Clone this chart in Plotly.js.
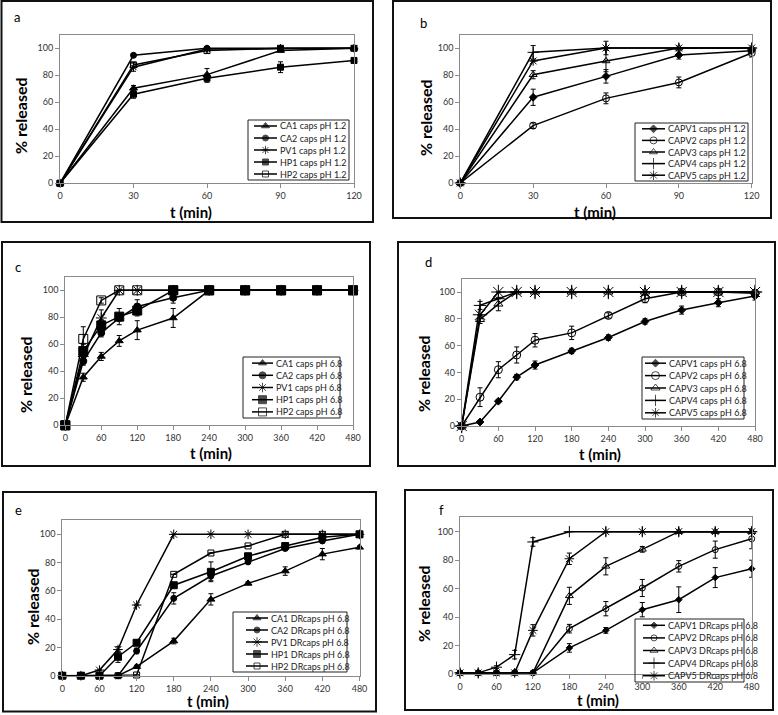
<!DOCTYPE html>
<html><head><meta charset="utf-8">
<script src="https://cdn.plot.ly/plotly-3.0.1.min.js"></script>
<style>html,body{margin:0;padding:0;background:#fff;}#chart{width:778px;height:715px;}</style>
</head><body><div id="chart"></div>
<script>
// ---------- DATA ----------
const timeShort = [0, 30, 60, 90, 120];
const timeLong = [0, 30, 60, 90, 120, 180, 240, 300, 360, 420, 480];

// panel a (pH 1.2 caps)
const namesA = ["CA1 caps pH 1.2", "CA2 caps pH 1.2", "PV1 caps pH 1.2", "HP1 caps pH 1.2", "HP2 caps pH 1.2"];
const aCA1 = [0, 70.4, 80.5, 98.3, 100];   const aCA1Err = [0, 2, 4.5, 1, 1];
const aCA2 = [0, 94.8, 100, 100, 100];     const aCA2Err = [0, 1, 1, 0, 0];
const aPV1 = [0, 86, 99.5, 100, 100];      const aPV1Err = [0, 3, 1, 0, 0];
const aHP1 = [0, 66, 77.8, 86, 91];        const aHP1Err = [0, 3, 3, 4, 1];
const aHP2 = [0, 87.7, 98.3, 100, 100];    const aHP2Err = [0, 2, 2, 1, 1];

// panel b (pH 1.2 CAPV caps)
const namesB = ["CAPV1 caps pH 1.2", "CAPV2 caps pH 1.2", "CAPV3 caps pH 1.2", "CAPV4 caps pH 1.2", "CAPV5 caps pH 1.2"];
const bCAPV1 = [0, 63.5, 79, 94.8, 98];    const bCAPV1Err = [0, 6, 5, 3, 1];
const bCAPV2 = [0, 42.5, 62.7, 74.5, 96.3]; const bCAPV2Err = [0, 2, 4, 4, 3];
const bCAPV3 = [0, 80.2, 90.4, 100, 100];  const bCAPV3Err = [0, 3, 8, 0, 0];
const bCAPV4 = [0, 96.8, 100, 100, 100];   const bCAPV4Err = [0, 5, 0, 0, 0];
const bCAPV5 = [0, 90.4, 100, 100, 100];   const bCAPV5Err = [0, 0, 5, 0, 0];

// panel c (pH 6.8 caps)
const namesC = ["CA1 caps pH 6.8", "CA2 caps pH 6.8", "PV1 caps pH 6.8", "HP1 caps pH 6.8", "HP2 caps pH 6.8"];
const cCA1 = [0, 35.6, 51, 62.5, 70.5, 79.5, 100, 100, 100, 100, 100]; const cCA1Err = [0, 3, 3, 4, 7, 7, 0, 0, 0, 0, 0];
const cCA2 = [0, 47.5, 68.5, 79.5, 88, 94.5, 100, 100, 100, 100, 100]; const cCA2Err = [0, 3, 3, 2, 5, 4, 0, 0, 0, 0, 0];
const cPV1 = [0, 51, 79.5, 100, 100, 100, 100, 100, 100, 100, 100];    const cPV1Err = [0, 5, 6, 0, 0, 0, 0, 0, 0, 0, 0];
const cHP1 = [0, 55, 74, 80.5, 85, 100, 100, 100, 100, 100, 100];      const cHP1Err = [0, 5, 4, 6, 4, 0, 0, 0, 0, 0, 0];
const cHP2 = [0, 64, 92.5, 100, 100, 100, 100, 100, 100, 100, 100];    const cHP2Err = [0, 9, 2, 0, 0, 0, 0, 0, 0, 0, 0];

// panel d (pH 6.8 CAPV caps)
const namesD = ["CAPV1 caps pH 6.8", "CAPV2 caps pH 6.8", "CAPV3 caps pH 6.8", "CAPV4 caps pH 6.8", "CAPV5 caps pH 6.8"];
const dCAPV1 = [0, 3, 18.5, 36.5, 45.5, 56, 66, 78, 86.5, 92, 97];      const dCAPV1Err = [0, 1, 1, 2, 3, 2, 2, 2, 3, 3, 3];
const dCAPV2 = [0, 21.5, 42, 53, 64, 69.5, 82.5, 95, 100, 100, 99];     const dCAPV2Err = [0, 7, 6, 6, 5, 5, 2, 3, 1, 0, 0];
const dCAPV3 = [0, 79.5, 91, 100, 100, 100, 100, 100, 100, 100, 100];   const dCAPV3Err = [0, 3, 5, 0, 0, 0, 0, 0, 0, 0, 0];
const dCAPV4 = [0, 90, 95, 100, 100, 100, 100, 100, 100, 100, 100];     const dCAPV4Err = [0, 3, 0, 0, 0, 0, 0, 0, 0, 0, 0];
const dCAPV5 = [0, 83, 100, 100, 100, 100, 100, 100, 100, 100, 100];    const dCAPV5Err = [0, 0, 0, 0, 0, 0, 0, 0, 0, 0, 0];

// panel e (pH 6.8 DRcaps)
const namesE = ["CA1 DRcaps pH 6.8", "CA2 DRcaps pH 6.8", "PV1 DRcaps pH 6.8", "HP1 DRcaps pH 6.8", "HP2 DRcaps pH 6.8"];
const eCA1 = [0, 0, 0, 0, 6.4, 24.5, 54, 65.3, 74, 86, 90.8];     const eCA1Err = [0, 0, 0, 0, 1, 2, 4, 1, 3, 4, 1];
const eCA2 = [0, 0, 0, 0, 17.5, 54.7, 70.5, 80.5, 90, 95.3, 100]; const eCA2Err = [0, 0, 0, 0, 2, 4, 3, 1, 1, 1, 0];
const ePV1 = [0, 0, 4, 18.5, 50, 100, 100, 100, 100, 100, 100];   const ePV1Err = [0, 0, 0, 2, 0, 0, 0, 0, 0, 0, 0];
const eHP1 = [0, 0, 0, 13.4, 23.3, 64, 73.5, 84.5, 91.7, 98, 100]; const eHP1Err = [0, 0, 0, 4, 1, 1, 7, 2, 1, 1, 0];
const eHP2 = [0, 0, 0, 0, 0.5, 71.7, 86.8, 91.8, 100, 100, 100];  const eHP2Err = [0, 0, 0, 0, 0, 0, 0, 0, 0, 0, 0];

// panel f (pH 6.8 CAPV DRcaps)
const namesF = ["CAPV1 DRcaps pH 6.8", "CAPV2 DRcaps pH 6.8", "CAPV3 DRcaps pH 6.8", "CAPV4 DRcaps pH 6.8", "CAPV5 DRcaps pH 6.8"];
const fCAPV1 = [1, 1, 1.5, 1.5, 1, 18.5, 30.8, 45.3, 52.3, 67.8, 74]; const fCAPV1Err = [0, 0, 0, 0, 0, 3, 2, 5, 9, 7, 6];
const fCAPV2 = [1, 1, 1, 1, 1, 32, 46, 60.5, 75.7, 87.4, 95];         const fCAPV2Err = [0, 0, 0, 0, 0, 3, 5, 6, 4, 6, 7];
const fCAPV3 = [1, 1, 1, 1, 1, 55, 75.7, 87.6, 100, 100, 100];        const fCAPV3Err = [0, 0, 0, 0, 0, 6, 6, 2, 0, 0, 0];
const fCAPV4 = [1, 1, 5, 13.8, 92.8, 100, 100, 100, 100, 100, 100];   const fCAPV4Err = [0, 0, 1, 3, 3, 0, 0, 0, 0, 0, 0];
const fCAPV5 = [1, 1, 1, 1, 30.8, 81, 100, 100, 100, 100, 100];       const fCAPV5Err = [0, 0, 0, 0, 4, 4, 0, 0, 0, 0, 0];

const panelLabels = ["a", "b", "c", "d", "e", "f"];
const yTitleText = "% released";
const xTitleText = "t (min)";

// ---------- STYLE / LAYOUT ----------
const W = 778, H = 715;
const px = x => x / W;
const py = y => 1 - y / H;
const FONT = "Lato, 'Open Sans', sans-serif";

const symCA = ["triangle-up", "circle", "asterisk-open", "square", "square-open"];
const symCAPV = ["diamond", "circle-open", "triangle-up-open", "cross-thin-open", "asterisk-open"];

const panels = [
  { t: timeShort, xmax: 120, dtick: 30, names: namesA, ys: [aCA1, aCA2, aPV1, aHP1, aHP2], errs: [aCA1Err, aCA2Err, aPV1Err, aHP1Err, aHP2Err],
    sym: symCA, size: [7, 6, 7, 6, 6], plot: [60, 354, 34.8, 183.3], box: [1.5, 373, 1, 222],
    leg: [248, 349, 120, 180], legLine: [6, 29], yTitle: [21, 116], xTitle: [191, 212], lab: [17, 17] },
  { t: timeShort, xmax: 120, dtick: 30, names: namesB, ys: [bCAPV1, bCAPV2, bCAPV3, bCAPV4, bCAPV5], errs: [bCAPV1Err, bCAPV2Err, bCAPV3Err, bCAPV4Err, bCAPV5Err],
    sym: symCAPV, size: [6, 7, 7, 8, 8], plot: [460.3, 751.7, 34.5, 183], box: [393, 771, 1, 218],
    leg: [635, 748, 123, 181], legLine: [7, 30], yTitle: [425, 118], xTitle: [595, 212], lab: [423, 23] },
  { t: timeLong, xmax: 480, dtick: 60, names: namesC, ys: [cCA1, cCA2, cPV1, cHP1, cHP2], errs: [cCA1Err, cCA2Err, cPV1Err, cHP1Err, cHP2Err],
    sym: symCA, size: [7, 7, 9, 9, 9], plot: [65.3, 353, 276.8, 425.3], box: [2, 370, 242, 466],
    leg: [243, 340, 357, 418], legLine: [9, 30], yTitle: [25, 375], xTitle: [211, 453], lab: [18, 267] },
  { t: timeLong, xmax: 480, dtick: 60, names: namesD, ys: [dCAPV1, dCAPV2, dCAPV3, dCAPV4, dCAPV5], errs: [dCAPV1Err, dCAPV2Err, dCAPV3Err, dCAPV4Err, dCAPV5Err],
    sym: symCAPV, size: [6, 8, 8, 9, 12], plot: [461.7, 755, 278.6, 426], box: [398, 775, 242, 466],
    leg: [642, 744, 357, 419], legLine: [3, 24], yTitle: [423, 374], xTitle: [600, 454], lab: [428, 262] },
  { t: timeLong, xmax: 480, dtick: 60, names: namesE, ys: [eCA1, eCA2, ePV1, eHP1, eHP2], errs: [eCA1Err, eCA2Err, ePV1Err, eHP1Err, eHP2Err],
    sym: symCA, size: [7, 6, 8, 7, 6], plot: [62.3, 359.5, 520.2, 675.7], box: [3, 376, 492, 711.5],
    leg: [233, 347, 612, 672], legLine: [13, 35], yTitle: [32, 606], xTitle: [207.5, 701], lab: [18, 510] },
  { t: timeLong, xmax: 480, dtick: 60, names: namesF, ys: [fCAPV1, fCAPV2, fCAPV3, fCAPV4, fCAPV5], errs: [fCAPV1Err, fCAPV2Err, fCAPV3Err, fCAPV4Err, fCAPV5Err],
    sym: symCAPV, size: [5, 6, 7, 8, 8], plot: [460, 751.7, 517.4, 674.3], box: [405, 773, 490, 710],
    leg: [635, 744, 619, 682], legLine: [8, 30], yTitle: [423, 604], xTitle: [597.5, 700], lab: [442, 510] }
];

const traces = [];
const layout = {
  width: W, height: H, margin: { l: 0, r: 0, t: 0, b: 0 },
  paper_bgcolor: "#fff", plot_bgcolor: "rgba(0,0,0,0)",
  showlegend: false, shapes: [], annotations: [],
  font: { family: FONT, color: "#000" }
};

function markerFor(sym, size) {
  return { symbol: sym, size: size, color: "#000", line: { color: "#000", width: 1 } };
}

panels.forEach((p, k) => {
  const n = k + 1, ln = k + 7;
  const xa = "xaxis" + n, ya = "yaxis" + n;
  const [L, R, T, B] = p.plot;
  const axCommon = {
    showline: true, linecolor: "#8a8a8a", linewidth: 1, mirror: true,
    ticks: "outside", ticklen: 4, tickcolor: "#8a8a8a", tickwidth: 1,
    showgrid: false, zeroline: false, fixedrange: true,
    tickfont: { family: FONT, size: 9, color: "#333" }
  };
  layout[xa] = Object.assign({}, axCommon, {
    domain: [px(L), px(R)], range: [0, p.xmax], tickmode: "linear", tick0: 0, dtick: p.dtick, anchor: "y" + n
  });
  layout[ya] = Object.assign({}, axCommon, {
    domain: [py(B), py(T)], range: [0, 110], tickmode: "linear", tick0: 0, dtick: 20, anchor: "x" + n
  });

  p.ys.forEach((y, i) => {
    traces.push({
      type: "scatter", mode: "lines+markers", x: p.t, y: y, name: p.names[i],
      xaxis: "x" + n, yaxis: "y" + n, cliponaxis: false,
      line: { color: "#000", width: 1.5 },
      marker: markerFor(p.sym[i], p.size[i]),
      error_y: { type: "data", array: p.errs[i], visible: true, color: "#000", thickness: 1, width: 2.5 }
    });
  });

  // custom compact legend drawn in its own small subplot
  const [lL, lR, lT, lB] = p.leg;
  const lw = lR - lL, lh = lB - lT;
  layout["xaxis" + ln] = { domain: [px(lL), px(lR)], range: [0, lw], visible: false, fixedrange: true, anchor: "y" + ln };
  layout["yaxis" + ln] = { domain: [py(lB), py(lT)], range: [lh, 0], visible: false, fixedrange: true, anchor: "x" + ln };
  const [s0, s1] = p.legLine;
  p.names.forEach((nm, i) => {
    const ry = lh * (i + 0.5) / 5;
    traces.push({
      type: "scatter", mode: "lines+markers", x: [s0, (s0 + s1) / 2, s1], y: [ry, ry, ry],
      xaxis: "x" + ln, yaxis: "y" + ln, hoverinfo: "skip", cliponaxis: false,
      line: { color: "#000", width: 1.5 },
      marker: markerFor(p.sym[i], [0, Math.min(p.size[i], 8), 0])
    });
    layout.annotations.push({
      xref: "x" + ln, yref: "y" + ln, x: s1 + 1, y: ry, text: nm, showarrow: false,
      xanchor: "left", yanchor: "middle", font: { family: FONT, size: 9, color: "#222" }
    });
  });
  layout.shapes.push({ type: "rect", xref: "paper", yref: "paper",
    x0: px(lL), x1: px(lR), y0: py(lB), y1: py(lT), line: { color: "#222", width: 1 } });

  // outer panel frame
  const [bL, bR, bT, bB] = p.box;
  layout.shapes.push({ type: "rect", xref: "paper", yref: "paper",
    x0: px(bL), x1: px(bR), y0: py(bB), y1: py(bT), line: { color: "#111", width: 2 } });

  // titles and panel label
  layout.annotations.push({ xref: "paper", yref: "paper", x: px(p.yTitle[0]), y: py(p.yTitle[1]),
    text: "<b>" + yTitleText + "</b>", textangle: -90, showarrow: false, xanchor: "center", yanchor: "middle",
    font: { family: FONT, size: 16, color: "#000" } });
  layout.annotations.push({ xref: "paper", yref: "paper", x: px(p.xTitle[0]), y: py(p.xTitle[1]),
    text: "<b>" + xTitleText + "</b>", showarrow: false, xanchor: "center", yanchor: "middle", borderpad: 0,
    font: { family: FONT, size: 15, color: "#000" } });
  layout.annotations.push({ xref: "paper", yref: "paper", x: px(p.lab[0]), y: py(p.lab[1]),
    text: panelLabels[k], showarrow: false, xanchor: "center", yanchor: "middle",
    font: { family: FONT, size: 13, color: "#000" } });
});

Plotly.newPlot("chart", traces, layout, { staticPlot: true, displayModeBar: false });
</script>
</body></html>
